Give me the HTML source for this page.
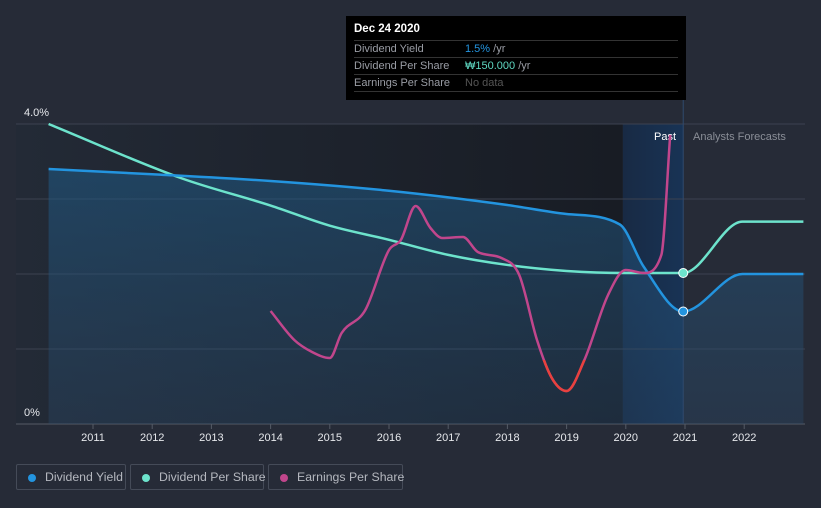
<!DOCTYPE html>
<html><head><meta charset="utf-8">
<style>
body{margin:0;background:#262b37;font-family:"Liberation Sans",sans-serif;}
#wrap{position:relative;width:821px;height:508px;overflow:hidden;background:#262b37}
svg{position:absolute;left:0;top:0}
.tt{position:absolute;left:346px;top:16px;width:340px;height:84px;background:#000;color:#fff;font-size:11px}
.tt .h{position:absolute;left:8px;top:7px;font-weight:bold;font-size:11.5px}
.row{position:absolute;left:8px;width:324px;border-top:1px solid #333;height:16px;line-height:17px;color:#9a9da5}
.row span{position:absolute;left:111px}
.leg{position:absolute;top:464px;height:26px;border:1px solid #454b58;border-radius:2px;color:#b5b8bf;font-size:12.3px;line-height:25px;box-sizing:border-box;white-space:nowrap}
.leg i{position:absolute;left:11px;top:9px;width:8px;height:8px;border-radius:50%}
.leg b{font-weight:normal;position:absolute;left:28px}
</style></head><body>
<div id="wrap">
<svg id="c" width="821" height="508"></svg>
<div class="tt">
<div class="h">Dec 24 2020</div>
<div class="row" style="top:24px">Dividend Yield<span style="color:#2394df">1.5% <em style="font-style:normal;color:#9a9da5">/yr</em></span></div>
<div class="row" style="top:41px">Dividend Per Share<span style="color:#5fd8c2">₩150.000 <em style="font-style:normal;color:#9a9da5">/yr</em></span></div>
<div class="row" style="top:58px;border-bottom:1px solid #333">Earnings Per Share<span style="color:#555">No data</span></div>
</div>
<div class="leg" style="left:16px;width:110px"><i style="background:#2394df"></i><b>Dividend Yield</b></div>
<div class="leg" style="left:130px;width:134px"><i style="background:#6de3cc"></i><b>Dividend Per Share</b></div>
<div class="leg" style="left:268px;width:135px"><i style="background:#c1468c"></i><b>Earnings Per Share</b></div>
</div>
<script>
const years=[2011,2012,2013,2014,2015,2016,2017,2018,2019,2020,2021,2022];
const yTicks=["0%","4.0%"];
const yieldX=[2010.25,2012,2014,2016,2018,2019,2019.9,2020.3,2020.97,2021.97,2023];
const yieldV=[3.4,3.33,3.24,3.11,2.92,2.8,2.66,2.1,1.5,2.0,2.0];
const dpsX=[2010.25,2012.5,2014,2015,2016,2017,2018,2019,2020,2020.97,2021.97,2023];
const dpsV=[298,244,217,197,183,168,158,152,150,150,201,201];
const epsX=[2014,2014.4,2014.7,2015,2015.2,2015.6,2016,2016.2,2016.45,2016.7,2016.9,2017.25,2017.5,2017.9,2018.2,2018.5,2018.75,2019,2019.3,2019.7,2020,2020.3,2020.6,2020.75];
const epsV=[113,84,72,66,91,114,174,184,218,196,186,187,172,166,149,84,46,33,64,129,154,151,169,289];
const X=y=>93+(y-2011)*59.2, L=16,R=805,T=124,B=424;
const Yy=v=>B-v*75, Yd=v=>B-v*(151/150), Ye=v=>B-v;
const s=document.getElementById('c'),NS='http://www.w3.org/2000/svg';
function el(t,a,n){const e=document.createElementNS(NS,t);for(const k in a)e.setAttribute(k,a[k]);


s.appendChild(e);return e;}
function path(p){const n=p.length,dl=[],m=[];
for(let i=0;i<n-1;i++)dl.push((p[i+1][1]-p[i][1])/(p[i+1][0]-p[i][0]));
for(let i=0;i<n;i++){if(i==0)m.push(dl[0]);else if(i==n-1)m.push(dl[n-2]);else m.push(dl[i-1]*dl[i]<=0?0:(dl[i-1]+dl[i])/2);}
for(let i=0;i<n-1;i++){if(dl[i]==0){m[i]=0;m[i+1]=0;continue;}const a=m[i]/dl[i],b=m[i+1]/dl[i],h=a*a+b*b;if(h>9){const t=3/Math.sqrt(h);m[i]=t*a*dl[i];m[i+1]=t*b*dl[i];}}
let d='M'+p[0][0]+','+p[0][1];
for(let i=0;i<n-1;i++){const h=(p[i+1][0]-p[i][0])/3;d+=' C'+(p[i][0]+h)+','+(p[i][1]+m[i]*h)+' '+(p[i+1][0]-h)+','+(p[i+1][1]-m[i+1]*h)+' '+p[i+1][0]+','+p[i+1][1];}
return d;}
const defs=el('defs',{},'defs');
defs.innerHTML='<linearGradient id="pg" x1="0" x2="1"><stop offset="0" stop-color="#232a36"/><stop offset="1" stop-color="#181c24"/></linearGradient><linearGradient id="hb" x1="0" x2="1"><stop offset="0" stop-color="#182a44"/><stop offset="1" stop-color="#183355"/></linearGradient><linearGradient id="af" x1="0" y1="0" x2="0" y2="1"><stop offset="0" stop-color="#1f5a86" stop-opacity=".55"/><stop offset="1" stop-color="#2a4a6a" stop-opacity=".35"/></linearGradient>';
el('rect',{x:L,y:T,width:X(2019.95)-L,height:B-T,fill:'url(#pg)'},'past-region');
el('rect',{x:X(2019.95),y:T,width:X(2020.97)-X(2019.95),height:B-T,fill:'url(#hb)'},'highlight-band');
[0,1,2,3,4].forEach(i=>el('line',{x1:L,x2:R,y1:Yy(i),y2:Yy(i),stroke:i==0?'#555b66':'#3c4250','stroke-width':1},'gridline'));
const yp=yieldX.map((x,i)=>[X(x),Yy(yieldV[i])]);
el('path',{d:path(yp)+' L'+X(2023)+','+B+' L'+X(2010.25)+','+B+'Z',fill:'url(#af)'},'yield-area');
el('line',{x1:X(2020.97),x2:X(2020.97),y1:16,y2:B,stroke:'#2f4a6e'},'cursor-line');
years.forEach(y=>{el('line',{x1:X(y),x2:X(y),y1:B,y2:B+5,stroke:'#555b66'},'x-tick');
const t=el('text',{x:X(y),y:441,fill:'#e6e8ec','font-size':11,'text-anchor':'middle'},'x-tick-label');t.textContent=y;});
let t=el('text',{x:24,y:116,fill:'#e6e8ec','font-size':11},'y-label-max');t.textContent=yTicks[1];
t=el('text',{x:24,y:416,fill:'#e6e8ec','font-size':11},'y-label-min');t.textContent=yTicks[0];
t=el('text',{x:676,y:140,fill:'#fff','font-size':11,'text-anchor':'end'},'past-label');t.textContent='Past';
t=el('text',{x:693,y:140,fill:'#8a8e97','font-size':11},'forecast-label');t.textContent='Analysts Forecasts';
el('path',{d:path(dpsX.map((x,i)=>[X(x),Yd(dpsV[i])])),fill:'none',stroke:'#6de3cc','stroke-width':2.5},'dps-line');
el('path',{d:path(yp),fill:'none',stroke:'#2394df','stroke-width':2.5},'yield-line');
const ep=epsX.map((x,i)=>[X(x),Ye(epsV[i])]);
el('clipPath',{id:'lo'},'clip').innerHTML='<rect x="0" y="360" width="821" height="100"/>';
el('path',{d:path(ep),fill:'none',stroke:'#c1468c','stroke-width':2.5},'eps-line');
el('path',{d:path(ep),fill:'none',stroke:'#e8413e','stroke-width':2.5,'clip-path':'url(#lo)'},'eps-line-low');
el('circle',{cx:X(2020.97),cy:Yd(150),r:4.5,fill:'#6de3cc',stroke:'#fff','stroke-width':1},'dps-marker');
el('circle',{cx:X(2020.97),cy:Yy(1.5),r:4.5,fill:'#2394df',stroke:'#fff','stroke-width':1},'yield-marker');
</script>
</body></html>
